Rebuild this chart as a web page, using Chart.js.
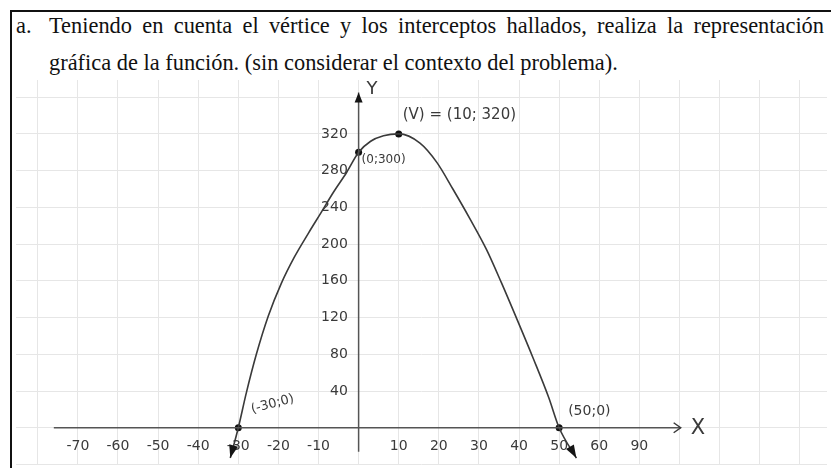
<!DOCTYPE html>
<html>
<head>
<meta charset="utf-8">
<script src="https://cdn.jsdelivr.net/npm/chart.js@4.4.1/dist/chart.umd.min.js"></script>
<style>
  body { margin: 0; background: #fff; width: 831px; height: 468px; overflow: hidden; position: relative; }
  .marco { position: absolute; left: 10px; top: 10px; right: -4px; bottom: -4px; border-top: 2px solid #111; border-left: 2px solid #111; }
  .enunciado p { position: absolute; margin: 0; white-space: nowrap; font-family: "Liberation Serif", "Times New Roman", serif; font-size: 22.4px; line-height: 22px; color: #111; }
  .enunciado p.justa { width: 775px; white-space: normal; text-align: justify; text-align-last: justify; }
  #grafica { position: absolute; left: 12px; top: 76px; }
</style>
</head>
<body>
<div class="marco"></div>
<div class="enunciado">
  <p style="left:16px; top:15px;">a.</p>
  <p class="justa" style="left:49px; top:15px;">Teniendo en cuenta el vértice y los interceptos hallados, realiza la representación</p>
  <p style="left:49px; top:52px;">gráfica de la función. (sin considerar el contexto del problema).</p>
</div>
<canvas id="grafica" width="819" height="392"></canvas>
<script>
// curva dibujada a mano, de la flecha izquierda a la derecha
const curvaX = [-32, -30, -28, -25.5, -22.5, -19.3, -16, -12.5, -9.4, -6.2, -3, 0, 3, 6.2, 10, 15.3, 19.5, 23.5, 27.7, 31.9, 35.6, 39.5, 43.5, 47.4, 50, 54.3];
const curvaY = [-33, 0, 38, 80, 122, 157, 186, 212, 234, 257, 278, 300, 312, 318, 320, 310, 289, 260, 228, 194, 158, 118, 76, 33, 0, -33];

// vértice e interceptos marcados con punto
const puntosX = [-30, 0, 10, 50];
const puntosY = [0, 300, 320, 0];
const puntosTexto = ['(-30;0)', '(0;300)', '(V) = (10; 320)', '(50;0)'];

// marcas escritas sobre los ejes
const marcasX = [-70, -60, -50, -40, -30, -20, -10, 10, 20, 30, 40, 50, 60, 70];
const textoMarcasX = ['-70', '-60', '-50', '-40', '-30', '-20', '-10', '10', '20', '30', '40', '50', '60', '90'];
const marcasY = [40, 80, 120, 160, 200, 240, 280, 320];
const textoMarcasY = ['40', '80', '120', '160', '200', '240', '280', '320'];

// cuadrícula de la hoja
const rejillaX = [-80, -70, -60, -50, -40, -30, -20, -10, 0, 10, 20, 30, 40, 50, 60, 70, 80, 90, 100, 110];
const rejillaY = [-40, 0, 40, 80, 120, 160, 200, 240, 280, 320, 360];

// hasta dónde llegan los ejes trazados
const ejeX = [-76, 80.3];
const ejeY = [-26, 365];

const lapiz = '#3a3a3a';
// los números del eje y van un poco a la izquierda del eje
const columnaNumerosY = -2.7;

function sinRelleno(s) {
  s.paddingLeft = s.paddingRight = s.paddingTop = s.paddingBottom = 0;
}

// puntas de flecha al final de los trazos
const flechas = {
  id: 'flechas',
  afterDatasetsDraw(chart) {
    const ctx = chart.ctx;
    chart.data.datasets.forEach((ds, i) => {
      if (!ds.flechas) return;
      const pts = chart.getDatasetMeta(i).data;
      ds.flechas.forEach(f => {
        const n = pts.length;
        const a = f.extremo === 'fin' ? pts[n - 2] : pts[1];
        const b = f.extremo === 'fin' ? pts[n - 1] : pts[0];
        const ang = Math.atan2(b.y - a.y, b.x - a.x);
        ctx.save();
        ctx.translate(b.x, b.y);
        ctx.rotate(ang);
        ctx.strokeStyle = lapiz;
        ctx.fillStyle = '#151515';
        ctx.lineWidth = 1.5;
        ctx.beginPath();
        ctx.moveTo(-f.largo, -f.ancho / 2);
        ctx.lineTo(0, 0);
        ctx.lineTo(-f.largo, f.ancho / 2);
        if (f.tipo === 'llena') {
          ctx.closePath();
          ctx.fill();
        } else {
          ctx.stroke();
        }
        ctx.restore();
      });
    });
  }
};

// rótulos escritos junto a los puntos y los ejes
const notas = {
  id: 'notas',
  afterDraw(chart) {
    const ctx = chart.ctx;
    const sx = chart.scales.x, sy = chart.scales.y;
    const desplaza = [[13, -18, -0.26, 13], [3, 8, 0, 12], [4, -19, 0, 15], [9, -16, 0, 14]];
    ctx.save();
    ctx.fillStyle = lapiz;
    ctx.textBaseline = 'middle';
    ctx.textAlign = 'left';
    puntosTexto.forEach((t, i) => {
      const [dx, dy, rot, tam] = desplaza[i];
      ctx.save();
      ctx.translate(sx.getPixelForValue(puntosX[i]) + dx, sy.getPixelForValue(puntosY[i]) + dy);
      ctx.rotate(rot);
      ctx.font = tam + 'px "DejaVu Sans", sans-serif';
      ctx.fillText(t, 0, 0);
      ctx.restore();
    });
    ctx.font = '18px "DejaVu Sans", sans-serif';
    ctx.fillText('Y', sx.getPixelForValue(0) + 8, sy.getPixelForValue(ejeY[1]) - 3);
    ctx.font = '21px "DejaVu Sans", sans-serif';
    ctx.fillText('X', sx.getPixelForValue(ejeX[1]) + 10, sy.getPixelForValue(0) + 1);
    ctx.restore();
  }
};

new Chart(document.getElementById('grafica'), {
  type: 'scatter',
  data: {
    datasets: [
      {
        data: ejeX.map(x => ({x, y: 0})),
        showLine: true, borderColor: '#555', borderWidth: 1.5, pointRadius: 0,
        flechas: [{extremo: 'fin', tipo: 'abierta', largo: 7, ancho: 10}]
      },
      {
        data: ejeY.map(y => ({x: 0, y})),
        showLine: true, borderColor: '#555', borderWidth: 1.5, pointRadius: 0,
        flechas: [{extremo: 'fin', tipo: 'llena', largo: 10, ancho: 8}]
      },
      {
        data: curvaX.map((x, i) => ({x, y: curvaY[i]})),
        showLine: true, borderColor: lapiz, borderWidth: 1.6, pointRadius: 0,
        cubicInterpolationMode: 'monotone',
        flechas: [{extremo: 'inicio', tipo: 'llena', largo: 13, ancho: 9}, {extremo: 'fin', tipo: 'llena', largo: 13, ancho: 9}]
      },
      {
        data: puntosX.map((x, i) => ({x, y: puntosY[i]})),
        pointRadius: 3.5, pointBackgroundColor: '#111', pointBorderWidth: 0
      }
    ]
  },
  options: {
    responsive: false,
    animation: false,
    events: [],
    layout: { padding: 0 },
    plugins: { legend: { display: false }, tooltip: { enabled: false } },
    scales: {
      x: {
        type: 'linear', min: -85.43, max: 116.79, position: { y: 0 },
        afterBuildTicks: s => { s.ticks = rejillaX.map(value => ({value})); },
        afterFit: sinRelleno,
        grid: { color: '#e6e6e6', lineWidth: 1, drawTicks: false },
        border: { display: false },
        ticks: {
          autoSkip: false, maxRotation: 0, padding: 10, color: lapiz, font: { family: 'DejaVu Sans', size: 14 },
          callback: v => { const k = marcasX.indexOf(v); return k < 0 ? '' : textoMarcasX[k]; }
        }
      },
      y: {
        type: 'linear', min: -39.47, max: 378.67, position: { x: columnaNumerosY },
        afterBuildTicks: s => { s.ticks = rejillaY.map(value => ({value})); },
        afterFit: sinRelleno,
        grid: { color: '#e6e6e6', lineWidth: 1, drawTicks: false },
        border: { display: false },
        ticks: {
          autoSkip: false, color: lapiz, font: { family: 'DejaVu Sans', size: 14 },
          callback: v => { const k = marcasY.indexOf(v); return k < 0 ? '' : textoMarcasY[k]; }
        }
      }
    }
  },
  plugins: [flechas, notas]
});
</script>
</body>
</html>
